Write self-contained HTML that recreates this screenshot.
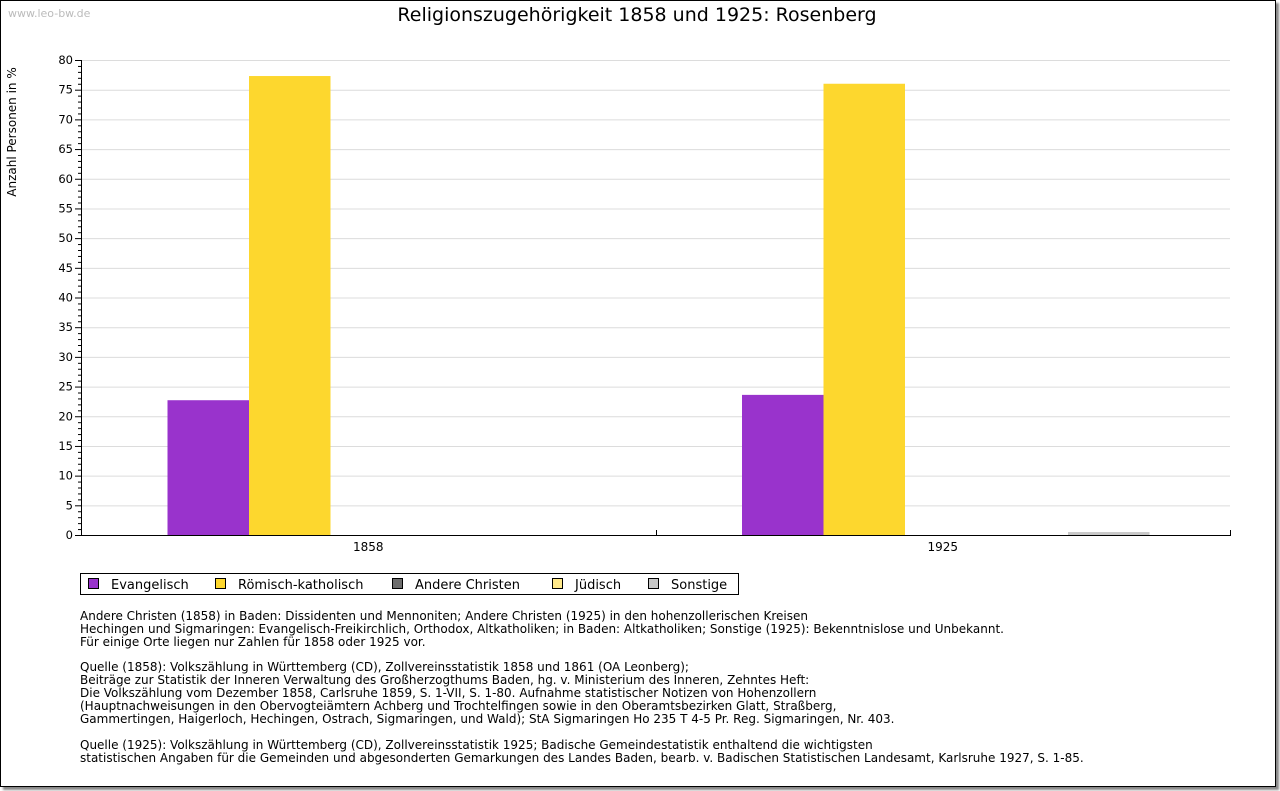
<!DOCTYPE html>
<html><head><meta charset="utf-8"><style>
body{margin:0;background:#fff;width:1280px;height:791px;overflow:hidden;font-family:"DejaVu Sans","Liberation Sans",sans-serif;}
#frame{position:absolute;left:0;top:0;width:1274px;height:785px;border:1px solid #000;box-shadow:3px 3px 2px #888;background:#fff;}
.note{position:absolute;left:80px;font-size:12px;line-height:13px;color:#000;white-space:pre;}
</style></head><body>
<div id="frame"></div>
<svg width="1280" height="791" style="position:absolute;left:0;top:0" id="chart" font-family="DejaVu Sans, Liberation Sans, sans-serif">
<text x="8" y="17" font-size="11" fill="#bbb">www.leo-bw.de</text>
<text x="637" y="21" font-size="19" text-anchor="middle">Religionszugehörigkeit 1858 und 1925: Rosenberg</text>
<text transform="translate(16,132) rotate(-90)" font-size="12" text-anchor="middle">Anzahl Personen in %</text>
<g id="grid"></g><g id="bars"></g><g id="axes"></g>
<g>
<rect x="80.5" y="573.5" width="658" height="21" fill="#fff" stroke="#000"/>
<g id="legend"></g>
</g>
</svg>
<div class="note" style="top:610px">Andere Christen (1858) in Baden: Dissidenten und Mennoniten; Andere Christen (1925) in den hohenzollerischen Kreisen
Hechingen und Sigmaringen: Evangelisch-Freikirchlich, Orthodox, Altkatholiken; in Baden: Altkatholiken; Sonstige (1925): Bekenntnislose und Unbekannt.
Für einige Orte liegen nur Zahlen für 1858 oder 1925 vor.</div>
<div class="note" style="top:661px">Quelle (1858): Volkszählung in Württemberg (CD), Zollvereinsstatistik 1858 und 1861 (OA Leonberg);
Beiträge zur Statistik der Inneren Verwaltung des Großherzogthums Baden, hg. v. Ministerium des Inneren, Zehntes Heft:
Die Volkszählung vom Dezember 1858, Carlsruhe 1859, S. 1-VII, S. 1-80. Aufnahme statistischer Notizen von Hohenzollern
(Hauptnachweisungen in den Obervogteiämtern Achberg und Trochtelfingen sowie in den Oberamtsbezirken Glatt, Straßberg,
Gammertingen, Haigerloch, Hechingen, Ostrach, Sigmaringen, und Wald); StA Sigmaringen Ho 235 T 4-5 Pr. Reg. Sigmaringen, Nr. 403.</div>
<div class="note" style="top:739px">Quelle (1925): Volkszählung in Württemberg (CD), Zollvereinsstatistik 1925; Badische Gemeindestatistik enthaltend die wichtigsten
statistischen Angaben für die Gemeinden und abgesonderten Gemarkungen des Landes Baden, bearb. v. Badischen Statistischen Landesamt, Karlsruhe 1927, S. 1-85.</div>
<script>
const categories = ["1858", "1925"];
const seriesNames = ["Evangelisch", "Römisch-katholisch", "Andere Christen", "Jüdisch", "Sonstige"];
const seriesColors = ["#9933cc", "#fdd72e", "#6d6d6d", "#ffe98a", "#c8c8c8"];
const evangelisch = [22.7, 23.6];
const katholisch = [77.3, 76.0];
const andereChristen = [0, 0];
const juedisch = [0, 0];
const sonstige = [0, 0.5];
const yTicks = [0,5,10,15,20,25,30,35,40,45,50,55,60,65,70,75,80];

const NS = "http://www.w3.org/2000/svg";
const X0 = 81, X1 = 1230, Y0 = 535, Y1 = 60, YMAX = 80;
const y = v => Y0 - (v / YMAX) * (Y0 - Y1);
const catW = (X1 - X0) / categories.length;
const barW = 81.5;
const xBar = (c, s) => X0 + 3 + c * catW + (catW - barW * seriesNames.length) / 2 + s * barW;
function mk(tag, attrs, parent){const e=document.createElementNS(NS,tag);for(const k in attrs)e.setAttribute(k,attrs[k]);parent.appendChild(e);return e;}
const grid = document.getElementById('grid'), bars = document.getElementById('bars'), axes = document.getElementById('axes'), legend = document.getElementById('legend');
yTicks.forEach(t => {
  if (t > 0) {
    const l = mk('line', {x1:X0, x2:X1, y1:y(t)+0.5, y2:y(t)+0.5, stroke:'#dcdcdc'}, grid);
    
    
  }
  const tx = mk('text', {x:73, y:y(t)+4, 'font-size':11.5, 'text-anchor':'end'}, axes);
  tx.textContent = t;
  
  
  mk('line', {x1:X0-6, x2:X0, y1:y(t)+0.5, y2:y(t)+0.5, stroke:'#000'}, axes);
});
for (let v = 1; v < YMAX; v++) if (v % 5) mk('line', {x1:X0-3, x2:X0, y1:y(v)+0.5, y2:y(v)+0.5, stroke:'#000'}, axes);
const allSeries = [evangelisch, katholisch, andereChristen, juedisch, sonstige];
allSeries.forEach((vals, s) => vals.forEach((v, c) => {
  if (v <= 0) return;
  const r = mk('rect', {x:xBar(c,s), y:y(v), width:barW, height:Y0 - y(v), fill:seriesColors[s]}, bars);
  
  
}));
mk('line', {x1:X0+0.5, x2:X0+0.5, y1:Y1, y2:Y0, stroke:'#000'}, axes);
mk('line', {x1:X0, x2:X1+1, y1:Y0+0.5, y2:Y0+0.5, stroke:'#000'}, axes);
categories.forEach((c, i) => {
  const xe = X0 + (i + 1) * catW;
  mk('line', {x1:Math.round(xe)+0.5, x2:Math.round(xe)+0.5, y1:Y0-5, y2:Y0, stroke:'#000'}, axes);
  const t = mk('text', {x:X0 + (i + 0.5) * catW, y:551, 'font-size':12, 'text-anchor':'middle'}, axes);
  t.textContent = c;
  
  
});
const legX = [88, 215, 392, 552, 648];
seriesNames.forEach((n, i) => {
  const g = mk('g', {}, legend);
  
  
  mk('rect', {x:legX[i]+0.5, y:578.5, width:10, height:10, fill:seriesColors[i], stroke:'#000'}, g);
  const t = mk('text', {x:legX[i]+23, y:589, 'font-size':13}, g);
  t.textContent = n;
});
</script>
</body></html>
